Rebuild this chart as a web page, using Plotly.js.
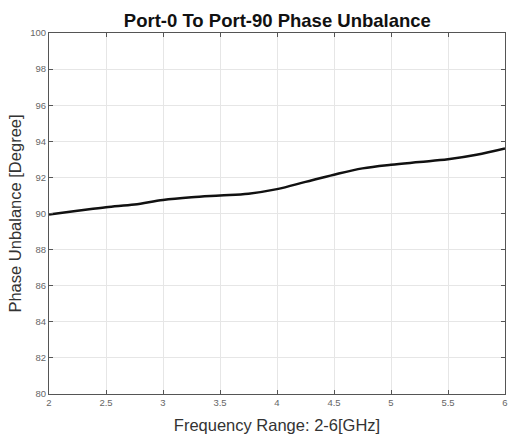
<!DOCTYPE html>
<html>
<head>
<meta charset="utf-8">
<script src="https://cdn.plot.ly/plotly-3.0.1.min.js"></script>
<style>html,body{margin:0;padding:0;background:#fff;}#chart{width:508px;height:438px;}</style>
</head>
<body>
<div id="chart"></div>
<script>
const freq = [2, 2.25, 2.5, 2.75, 3, 3.25, 3.5, 3.75, 4, 4.25, 4.5, 4.75, 5, 5.25, 5.5, 5.75, 6];
const phase = [89.95, 90.15, 90.35, 90.5, 90.75, 90.9, 91.0, 91.1, 91.35, 91.75, 92.15, 92.5, 92.7, 92.85, 93.0, 93.25, 93.6];
const xTicks = [2, 2.5, 3, 3.5, 4, 4.5, 5, 5.5, 6];
const xTickText = ['2', '2.5', '3', '3.5', '4', '4.5', '5', '5.5', '6'];
const yTicks = [80, 82, 84, 86, 88, 90, 92, 94, 96, 98, 100];

const trace = {
  x: freq, y: phase, type: 'scatter', mode: 'lines',
  line: {color: '#111111', width: 2.5, shape: 'spline'},
  hoverinfo: 'skip'
};
const layout = {
  width: 508, height: 438,
  margin: {l: 49, r: 3, t: 33, b: 44},
  paper_bgcolor: '#ffffff', plot_bgcolor: '#ffffff',
  showlegend: false,
  title: {text: '<b>Port-0 To Port-90 Phase Unbalance</b>', x: 0.546, xanchor: 'center', y: 0.953, yanchor: 'middle',
          font: {family: 'Liberation Sans, Arial, sans-serif', size: 18.5, color: '#111'}},
  xaxis: {
    range: [2, 6], tickvals: xTicks, ticktext: xTickText,
    showgrid: true, gridcolor: '#e6e6e6', gridwidth: 1,
    showline: true, linecolor: '#555', linewidth: 1, mirror: 'ticks',
    ticks: 'inside', ticklen: 4, tickcolor: '#555',
    tickfont: {family: 'Liberation Sans, Arial, sans-serif', size: 9.5, color: '#666'},
    zeroline: false,
    title: {text: 'Frequency Range: 2-6[GHz]', standoff: 12,
            font: {family: 'Liberation Sans, Arial, sans-serif', size: 16.5, color: '#333'}}
  },
  yaxis: {
    range: [80, 100], tickvals: yTicks,
    showgrid: true, gridcolor: '#e6e6e6', gridwidth: 1,
    showline: true, linecolor: '#555', linewidth: 1, mirror: 'ticks',
    ticks: 'inside', ticklen: 4, tickcolor: '#555',
    tickfont: {family: 'Liberation Sans, Arial, sans-serif', size: 9.5, color: '#666'},
    zeroline: false,
    title: {text: 'Phase Unbalance [Degree]', standoff: 4,
            font: {family: 'Liberation Sans, Arial, sans-serif', size: 16.5, color: '#333'}}
  }
};
Plotly.newPlot('chart', [trace], layout, {staticPlot: true, displayModeBar: false});
</script>
</body>
</html>
